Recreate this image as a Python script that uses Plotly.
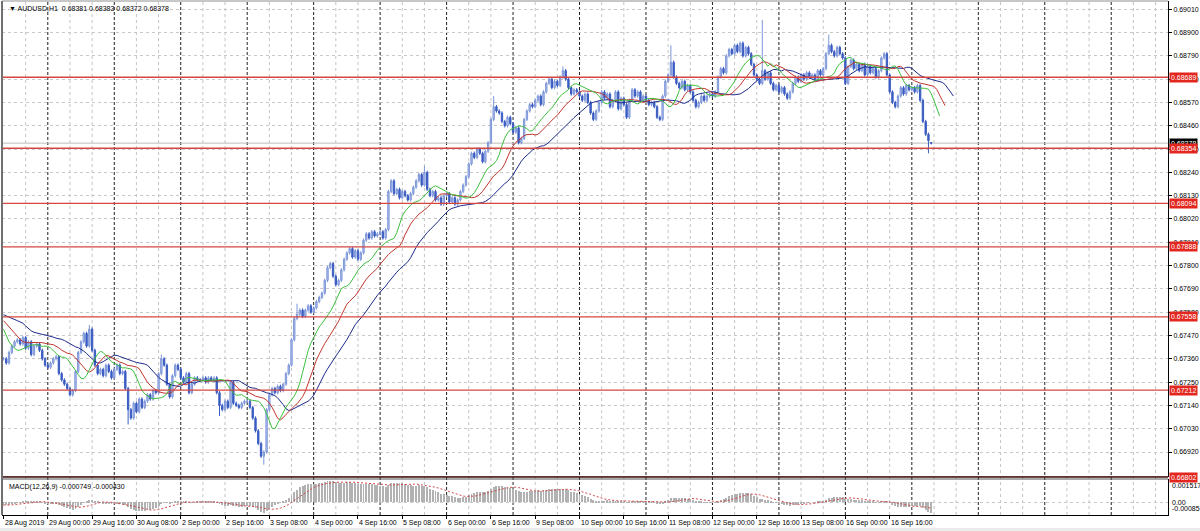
import numpy as np
import pandas as pd
import plotly.graph_objects as go

# ---------------- data ----------------
header_text = "\u25BC AUDUSD,H1  0.68381 0.68383 0.68372 0.68378"
macd_text = "MACD(12,26,9) -0.000749 -0.000430"

c_28aug = [0.6736, 0.6734, 0.6739, 0.6742, 0.6744, 0.6745, 0.6743, 0.6746, 0.6741, 0.6744,
           0.6738, 0.6742, 0.6743, 0.6740, 0.6736, 0.6733]
c_29aug = [0.6732, 0.6734, 0.6736, 0.6737, 0.6729, 0.6726, 0.6724, 0.6722, 0.6719, 0.6721,
           0.6730, 0.6739, 0.6744, 0.6748, 0.6742, 0.6750, 0.6740, 0.6733, 0.6729, 0.6731,
           0.6728, 0.6733, 0.6730, 0.6727]
c_30aug = [0.6731, 0.6733, 0.6729, 0.6730, 0.6722, 0.6712, 0.6708, 0.6715, 0.6711, 0.6717,
           0.6713, 0.6716, 0.6719, 0.6717, 0.6721, 0.6720, 0.6729, 0.6736, 0.6733, 0.6724,
           0.6718, 0.6728, 0.6733, 0.6731]
c_02sep = [0.6727, 0.6725, 0.6729, 0.6720, 0.6724, 0.6727, 0.6726, 0.6726, 0.6727, 0.6725,
           0.6727, 0.6726, 0.6727, 0.6720, 0.6714, 0.6712, 0.6716, 0.6713, 0.6725, 0.6715,
           0.6714, 0.6713, 0.6715, 0.6716]
c_03sep = [0.6716, 0.6713, 0.6708, 0.6702, 0.6696, 0.6690, 0.6692, 0.6712, 0.6719, 0.6722,
           0.6720, 0.6723, 0.6721, 0.6724, 0.6729, 0.6733, 0.6745, 0.6755, 0.6757, 0.6759,
           0.6756, 0.6759, 0.6761, 0.6758]
c_04sep = [0.6760, 0.6763, 0.6765, 0.6767, 0.6773, 0.6779, 0.6781, 0.6775, 0.6771, 0.6773,
           0.6778, 0.6783, 0.6786, 0.6788, 0.6784, 0.6787, 0.6783, 0.6786, 0.6792, 0.6795,
           0.6793, 0.6796, 0.6794, 0.6795]
c_05sep = [0.6796, 0.6793, 0.6797, 0.6815, 0.6820, 0.6814, 0.6816, 0.6812, 0.6815, 0.6813,
           0.6811, 0.6814, 0.6817, 0.6820, 0.6823, 0.6818, 0.6824, 0.6816, 0.6813, 0.6815,
           0.6811, 0.6812, 0.6809, 0.6813]
c_06sep = [0.6814, 0.6810, 0.6812, 0.6809, 0.6811, 0.6815, 0.6818, 0.6822, 0.6828, 0.6833,
           0.6831, 0.6835, 0.6833, 0.6829, 0.6834, 0.6838, 0.6849, 0.6855, 0.6853, 0.6852,
           0.6848, 0.6846, 0.6850, 0.6847]
c_09sep = [0.6843, 0.6845, 0.6838, 0.6840, 0.6849, 0.6853, 0.6856, 0.6855, 0.6858, 0.6860,
           0.6856, 0.6862, 0.6866, 0.6868, 0.6864, 0.6867, 0.6865, 0.6869, 0.6872, 0.6868,
           0.6864, 0.6861, 0.6863, 0.6862]
c_10sep = [0.6860, 0.6858, 0.6861, 0.6857, 0.6852, 0.6849, 0.6853, 0.6857, 0.6862, 0.6859,
           0.6861, 0.6855, 0.6858, 0.6862, 0.6854, 0.6859, 0.6856, 0.6850, 0.6858, 0.6863,
           0.6860, 0.6862, 0.6858, 0.6860]
c_11sep = [0.6858, 0.6856, 0.6857, 0.6855, 0.6850, 0.6849, 0.6860, 0.6867, 0.6870, 0.6876,
           0.6869, 0.6866, 0.6864, 0.6867, 0.6863, 0.6865, 0.6862, 0.6858, 0.6855, 0.6857,
           0.6860, 0.6858, 0.6860, 0.6861]
c_12sep = [0.6860, 0.6862, 0.6869, 0.6873, 0.6871, 0.6879, 0.6882, 0.6880, 0.6884, 0.6881,
           0.6885, 0.6879, 0.6883, 0.6880, 0.6875, 0.6870, 0.6868, 0.6866, 0.6872, 0.6868,
           0.6871, 0.6866, 0.6863, 0.6865]
c_13sep = [0.6862, 0.6864, 0.6861, 0.6859, 0.6862, 0.6866, 0.6869, 0.6867, 0.6870, 0.6868,
           0.6871, 0.6869, 0.6870, 0.6868, 0.6872, 0.6870, 0.6873, 0.6880, 0.6884, 0.6881,
           0.6879, 0.6883, 0.6880, 0.6878]
c_16sep = [0.6866, 0.6874, 0.6877, 0.6873, 0.6875, 0.6872, 0.6875, 0.6870, 0.6874, 0.6871,
           0.6873, 0.6869, 0.6872, 0.6878, 0.6880, 0.6870, 0.6862, 0.6857, 0.6855, 0.6860,
           0.6864, 0.6861, 0.6865, 0.6863]
c_17sep = [0.6864, 0.6862, 0.6865, 0.6858, 0.6848, 0.6842, 0.6839, 0.68378]

# notable wick extremes (bar index -> price)
spike_high = {31: 0.6752, 57: 0.6738, 106: 0.6762, 152: 0.6827, 177: 0.6860,
              202: 0.6874, 241: 0.6884, 274: 0.6896, 298: 0.6889}
spike_low = {45: 0.6705, 78: 0.6709, 94: 0.6686, 334: 0.6833}

# alligator lines, values visible before the first computed point
jaw_head = [0.67568, 0.67563, 0.67558, 0.67552, 0.67546, 0.67540, 0.67534, 0.67528]
teeth_head = [0.67540, 0.67525, 0.67510, 0.67495, 0.67482]
lips_head = [0.67500, 0.67470, 0.67440]
macd_seed = [0.67380, 0.67400]  # EMA12, EMA26 start

# horizontal levels
level_prices = [0.68689, 0.68354, 0.68094, 0.67888, 0.67558, 0.67212, 0.66802]
bid_price = 0.68378

# axes
price_ticks = [0.66920, 0.67030, 0.67140, 0.67250, 0.67360, 0.67470, 0.67580, 0.67690,
               0.67800, 0.67910, 0.68020, 0.68130, 0.68240, 0.68350, 0.68460, 0.68570,
               0.68680, 0.68790, 0.68900, 0.69010]
price_range = [0.66802, 0.69049]
macd_range = [-0.00085, 0.001517]
time_label_bars = [0, 16, 32, 48, 64, 80, 96, 112, 128, 144, 160, 176, 192, 208, 224,
                   240, 256, 272, 288, 304, 320]
time_labels = ["28 Aug 2019", "29 Aug 00:00", "29 Aug 16:00", "30 Aug 08:00", "2 Sep 00:00",
               "2 Sep 16:00", "3 Sep 08:00", "4 Sep 00:00", "4 Sep 16:00", "5 Sep 08:00",
               "6 Sep 00:00", "6 Sep 16:00", "9 Sep 08:00", "10 Sep 00:00", "10 Sep 16:00",
               "11 Sep 08:00", "12 Sep 00:00", "12 Sep 16:00", "13 Sep 08:00", "16 Sep 00:00",
               "16 Sep 16:00"]
x_range = [-0.54, 420.5]

# ---------------- build ----------------
closes = np.array(c_28aug + c_29aug + c_30aug + c_02sep + c_03sep + c_04sep + c_05sep +
                  c_06sep + c_09sep + c_10sep + c_11sep + c_12sep + c_13sep + c_16sep + c_17sep)
n = len(closes)
idx = np.arange(n)
opens = np.concatenate([[closes[0]], closes[:-1]])
opens[-1] = 0.68381
pad = 0.00008
highs = np.maximum(opens, closes) + pad
lows = np.minimum(opens, closes) - pad
for k, v in spike_high.items():
    highs[k] = max(highs[k], v)
for k, v in spike_low.items():
    lows[k] = min(lows[k], v)
highs[-1], lows[-1] = 0.68383, 0.68372

median = (highs + lows) / 2


def smma(series, period, seed):
    out = []
    prev = seed
    for v in series:
        prev = (prev * (period - 1) + v) / period
        out.append(prev)
    return np.array(out)


jaw = np.concatenate([jaw_head, smma(median, 13, jaw_head[-1])])
teeth = np.concatenate([teeth_head, smma(median, 8, teeth_head[-1])])
lips = np.concatenate([lips_head, smma(median, 5, lips_head[-1])])


def ema(series, period, seed):
    a = 2 / (period + 1)
    out = []
    prev = seed
    for v in series:
        prev = prev + a * (v - prev)
        out.append(prev)
    return np.array(out)


macd_main = ema(closes, 12, macd_seed[0]) - ema(closes, 26, macd_seed[1])
macd_signal = pd.Series(macd_main).rolling(9, min_periods=1).mean().values

fig = go.Figure()

# grid (vertical) every 8 bars, day separators
shapes = []
for k in range(8, int(x_range[1]) + 1, 8):
    if (k - 16) % 24 == 0:
        shapes.append(dict(type="line", xref="x", yref="paper", x0=k, x1=k, y0=0, y1=1,
                           line=dict(color="#202020", width=1, dash="3px,2px"), layer="below"))
    else:
        shapes.append(dict(type="line", xref="x", yref="paper", x0=k, x1=k, y0=0, y1=1,
                           line=dict(color="#c4c4c4", width=1, dash="3px,3px"), layer="below"))

# horizontal levels
for p in level_prices:
    shapes.append(dict(type="line", xref="paper", yref="y", x0=0, x1=1, y0=p, y1=p,
                       line=dict(color="rgb(214,70,64)", width=1.3), layer="above"))
shapes.append(dict(type="line", xref="paper", yref="y", x0=0, x1=1, y0=bid_price, y1=bid_price,
                   line=dict(color="#bdbdbd", width=1), layer="below"))
# panel separators / frame
main_bottom = 38 / 514
macd_top = 36 / 514
shapes.append(dict(type="line", xref="paper", yref="paper", x0=0, x1=1, y0=main_bottom, y1=main_bottom,
                   line=dict(color="#3a1a1a", width=1.5)))
shapes.append(dict(type="line", xref="paper", yref="paper", x0=0, x1=1, y0=macd_top, y1=macd_top,
                   line=dict(color="#555555", width=1)))
shapes.append(dict(type="line", xref="paper", yref="paper", x0=0, x1=0, y0=0, y1=1,
                   line=dict(color="#707070", width=2)))
shapes.append(dict(type="line", xref="paper", yref="paper", x0=0, x1=1, y0=1, y1=1,
                   line=dict(color="#909090", width=1)))
shapes.append(dict(type="rect", xref="paper", yref="paper", x0=-0.01, x1=1.05, y0=-13 / 514,
                   y1=-17 / 514, fillcolor="#ececec", line=dict(width=0)))

fig.add_trace(go.Candlestick(
    x=idx, open=opens, high=highs, low=lows, close=closes,
    increasing=dict(line=dict(color="#7d96d8", width=1), fillcolor="#b4c4ee"),
    decreasing=dict(line=dict(color="#3a5cc2", width=1), fillcolor="#3a5cc2"),
    whiskerwidth=0, xaxis="x", yaxis="y", hoverinfo="skip"))

fig.add_trace(go.Scatter(x=np.arange(len(jaw)), y=jaw, mode="lines",
                         line=dict(color="#1d2a8a", width=1), xaxis="x", yaxis="y"))
fig.add_trace(go.Scatter(x=np.arange(len(teeth)), y=teeth, mode="lines",
                         line=dict(color="#c0362c", width=1), xaxis="x", yaxis="y"))
fig.add_trace(go.Scatter(x=np.arange(len(lips)), y=lips, mode="lines",
                         line=dict(color="#3cbf3c", width=1), xaxis="x", yaxis="y"))

fig.add_trace(go.Bar(x=idx, y=macd_main, width=0.35, marker=dict(color="#b2b2b2", line=dict(width=0)),
                     xaxis="x2", yaxis="y2"))
fig.add_trace(go.Scatter(x=idx, y=macd_signal, mode="lines",
                         line=dict(color="#d04848", width=1, dash="2px,2px"), xaxis="x2", yaxis="y2"))

font_small = dict(family="Liberation Sans, Arial, sans-serif", size=7, color="#000000")

annotations = [
    dict(xref="paper", yref="paper", x=0, y=1, xanchor="left", yanchor="top", xshift=5, yshift=-2,
         text=header_text, showarrow=False, font=font_small),
    dict(xref="paper", yref="paper", x=0, y=macd_top, xanchor="left", yanchor="top", xshift=5, yshift=-2,
         text=macd_text, showarrow=False, font=font_small),
    dict(xref="paper", yref="paper", x=1, y=macd_top, xanchor="left", yanchor="top", xshift=2, yshift=-1,
         text="0.001517", showarrow=False, font=font_small),
    dict(xref="paper", yref="paper", x=1, y=0, xanchor="left", yanchor="bottom", xshift=2, yshift=7,
         text="0.00", showarrow=False, font=font_small),
    dict(xref="paper", yref="paper", x=1, y=0, xanchor="left", yanchor="bottom", xshift=2, yshift=1,
         text="-0.00085", showarrow=False, font=font_small),
]
for b, t in zip(time_label_bars, time_labels):
    annotations.append(dict(xref="x2", yref="paper", x=b, y=0, xanchor="left", yanchor="top",
                            xshift=-1, yshift=-2, text=t, showarrow=False, font=font_small))
annotations.append(dict(xref="paper", yref="y", x=1, y=bid_price, xanchor="left", yanchor="middle",
                        xshift=1, text="0.68378", showarrow=False, bgcolor="#000000", borderpad=1,
                        font=dict(family="Liberation Sans, Arial, sans-serif", size=7, color="#ffffff")))
for p in level_prices:
    annotations.append(dict(xref="paper", yref="y", x=1, y=p, xanchor="left", yanchor="middle",
                            xshift=1, text=f"{p:.5f}", showarrow=False, bgcolor="#e3261e", borderpad=1,
                            font=dict(family="Liberation Sans, Arial, sans-serif", size=7, color="#ffffff")))

fig.update_layout(
    width=1200, height=531,
    margin=dict(l=2, r=28, t=1, b=16),
    paper_bgcolor="#ffffff", plot_bgcolor="#ffffff",
    showlegend=False, bargap=0,
    shapes=shapes, annotations=annotations,
    xaxis=dict(domain=[0, 1], range=x_range, anchor="y", showgrid=False, zeroline=False,
               showticklabels=False, rangeslider=dict(visible=False), fixedrange=True),
    xaxis2=dict(domain=[0, 1], range=x_range, anchor="y2", matches="x", showgrid=False, zeroline=False,
                showticklabels=False, ticks="outside", ticklen=3, tickcolor="#000000",
                tickvals=time_label_bars, showline=True, linecolor="#000000", linewidth=1),
    yaxis=dict(domain=[main_bottom, 1], range=price_range, side="right", anchor="x",
               tickvals=price_ticks, ticktext=[f"{v:.5f}" for v in price_ticks],
               ticks="outside", ticklen=3, tickcolor="#000000", tickfont=font_small,
               showline=True, linecolor="#000000", linewidth=1,
               showgrid=True, gridcolor="#c8c8c8", griddash="3px,3px", gridwidth=1, zeroline=False),
    yaxis2=dict(domain=[0, macd_top], range=macd_range, side="right", anchor="x2",
                showticklabels=False, ticks="", showline=True, linecolor="#000000", linewidth=1,
                tickvals=[0.0], showgrid=True, gridcolor="#c8c8c8", griddash="3px,3px", zeroline=False),
)

fig.write_html("out.html", config={"displayModeBar": False},
               post_script="document.body.style.margin='0';document.body.style.overflow='hidden';")
